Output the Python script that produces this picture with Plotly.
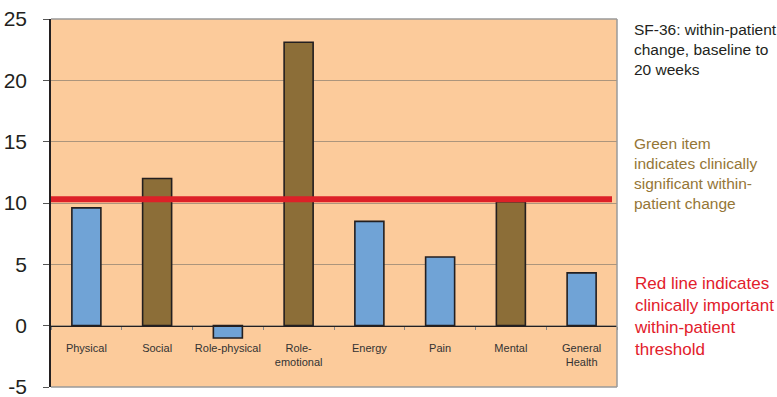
import plotly.graph_objects as go

categories = ["Physical", "Social", "Role-physical", "Role-<br>emotional", "Energy", "Pain", "Mental", "General<br>Health"]
values = [9.6, 12.0, -1.0, 23.1, 8.5, 5.6, 10.1, 4.3]
significant = [False, True, False, True, False, False, True, False]
threshold = 10.3
y_ticks = [-5, 0, 5, 10, 15, 20, 25]
y_tick_text = ["-5", "0", "5", "10", "15", "20", "25"]

BLUE = "#70A3D6"
BROWN = "#8C6E38"
BG = "#FCCB9B"
RED = "#DD2128"

colors = [BROWN if s else BLUE for s in significant]

W, H = 777, 397
ML, MR, MT, MB = 51, 160, 19, 10
pw = W - ML - MR

fig = go.Figure()
fig.add_trace(go.Bar(
    x=categories, y=values, width=0.41,
    marker=dict(color=colors, line=dict(color="#231F20", width=1.6)),
))

font_main = "Liberation Sans, Arial, sans-serif"

fig.update_layout(
    width=W, height=H,
    margin=dict(l=ML, r=MR, t=MT, b=MB, autoexpand=False),
    paper_bgcolor="white", plot_bgcolor=BG,
    showlegend=False,
    bargap=0.59,
    xaxis=dict(
        type="category", anchor="free", position=5 / 30,
        showline=True, linecolor="#231F20", linewidth=1.2,
        ticks="outside", tickson="boundaries", ticklen=3, tickcolor="#888",
        tickfont=dict(family=font_main, size=11, color="#333"),
        tickangle=0,
        showgrid=False, range=[-0.5, 7.5], ticklabelstandoff=12,
    ),
    yaxis=dict(
        range=[-5, 25], tickvals=y_ticks, ticktext=y_tick_text, domain=[0, 1],
        showline=True, linecolor="#231F20", linewidth=1.5,
        ticks="outside", ticklen=6, tickcolor="#555",
        showgrid=True, gridcolor="#AC957C", gridwidth=1,
        zeroline=False,
        tickfont=dict(family=font_main, size=21, color="#231F20"),
        ticklabelstandoff=12, ticklabeloverflow="allow",
    ),
)

# plot border (top, right, bottom)
fig.add_shape(type="line", xref="paper", yref="paper", x0=0, x1=1, y0=1, y1=1,
              line=dict(color="#9A9A9A", width=1.5))
fig.add_shape(type="line", xref="paper", yref="paper", x0=1, x1=1, y0=0, y1=1,
              line=dict(color="#9A9A9A", width=1.5))
fig.add_shape(type="line", xref="paper", yref="paper", x0=0, x1=1, y0=0, y1=0,
              line=dict(color="#9A9A9A", width=1.5))

# threshold line
fig.add_shape(type="line", xref="paper", yref="y", x0=0, x1=(612 - ML) / pw,
              y0=threshold, y1=threshold, line=dict(color=RED, width=6), layer="above")

tx = (632 - ML) / pw
fig.add_annotation(xref="paper", yref="paper", x=tx, y=1.0, xanchor="left", yanchor="top",
                   showarrow=False, align="left",
                   text="SF-36: within-patient<br>change, baseline to<br>20 weeks",
                   font=dict(family=font_main, size=15.5, color="#231F20"))
fig.add_annotation(xref="paper", yref="paper", x=tx, y=(H - MB - 133) / (H - MT - MB), xanchor="left", yanchor="top",
                   showarrow=False, align="left",
                   text="Green item<br>indicates clinically<br>significant within-<br>patient change",
                   font=dict(family=font_main, size=15.5, color="#957636"))
fig.add_annotation(xref="paper", yref="paper", x=tx, y=(H - MB - 272) / (H - MT - MB), xanchor="left", yanchor="top",
                   showarrow=False, align="left",
                   text="Red line indicates<br>clinically important<br>within-patient<br>threshold",
                   font=dict(family=font_main, size=17, color="#E2202B"))

fig.write_html("out.html")
